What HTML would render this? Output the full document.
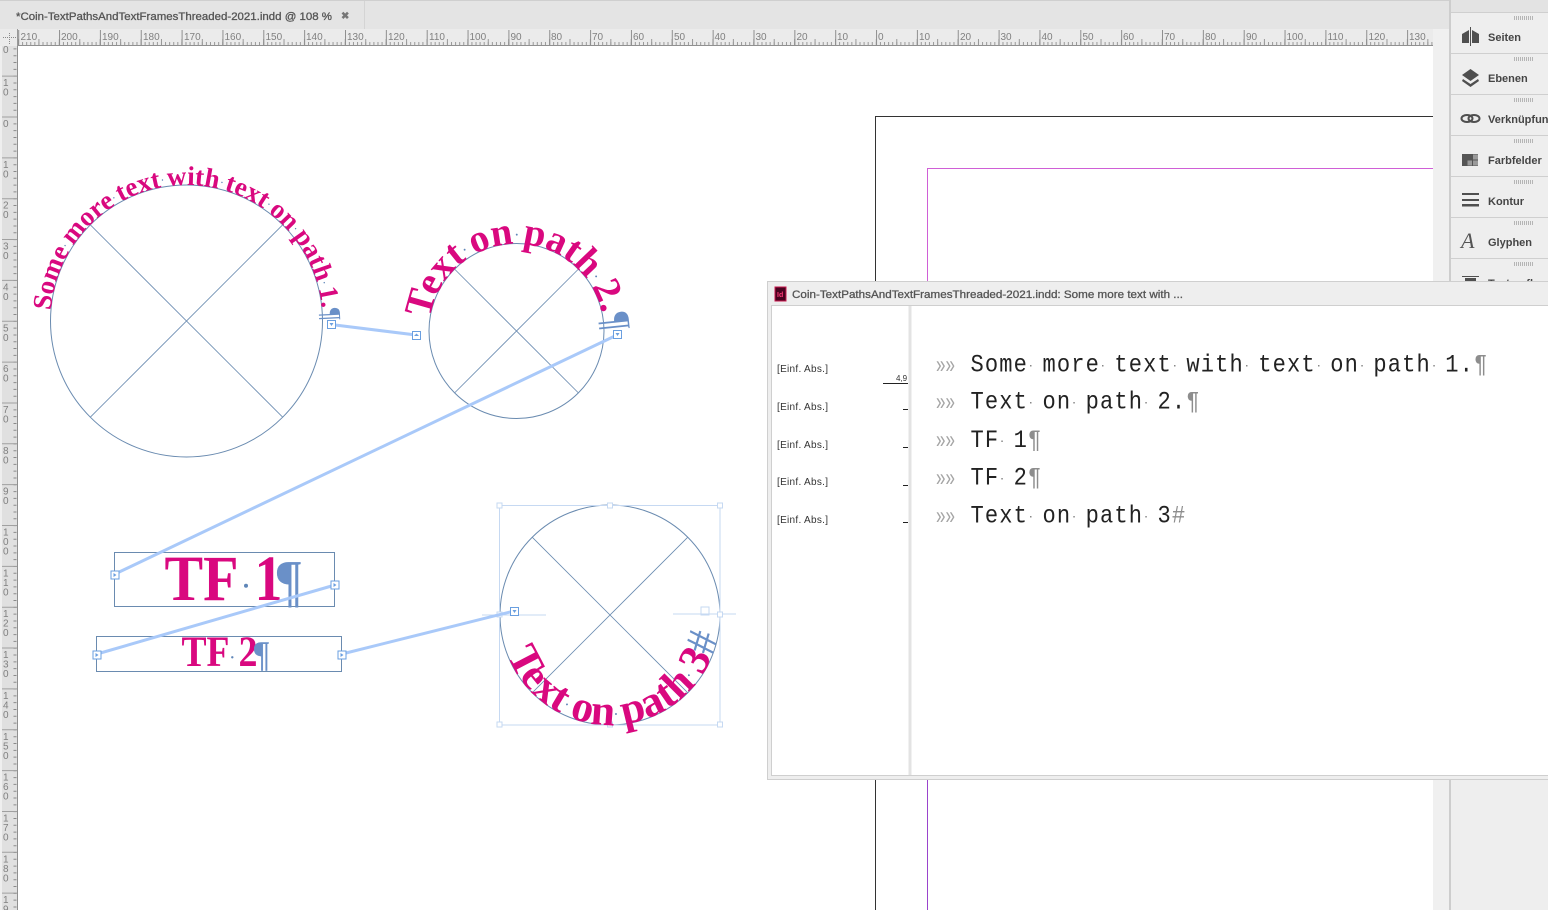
<!DOCTYPE html>
<html><head><meta charset="utf-8"><title>InDesign threaded text</title>
<style>html,body{margin:0;padding:0;width:1548px;height:910px;overflow:hidden;background:#fff}svg{display:block}
.r{font:10px "Liberation Sans",sans-serif;fill:#808080}
.p{font:bold 11px "Liberation Sans",sans-serif;fill:#454545}
.s{font:bold 26px "Liberation Serif",serif;fill:#d9087f}
.q{fill:#6a90c8;font-weight:normal}
.d1{fill:#5f86b8;font-weight:normal;font-size:12px;letter-spacing:2px}
.d2{fill:#5f86b8;font-weight:normal;font-size:16px;letter-spacing:3px}
.d3{fill:#5f86b8;font-weight:normal;font-size:16px;letter-spacing:4.5px}
.m{font:24px "Liberation Mono",monospace;fill:#222;letter-spacing:1.25px}
.g{fill:#8d8d8d}
.c{font:17px "Liberation Sans",sans-serif;fill:#a5a5a5}
.e{font:10px "Liberation Sans",sans-serif;fill:#333}
</style></head><body>
<svg width="1548" height="910" viewBox="0 0 1548 910" xmlns="http://www.w3.org/2000/svg">
<defs>
<path id="p1" d="M50.9 310.5A136 136 0 0 1 322.1 331.5"/>
<path id="p2" d="M429.87 318.7A87.5 87.5 0 0 1 603.13 343.3"/>
<path id="p3" d="M507.3 654.4A110 110 0 0 0 720 615"/>
</defs>
<rect width="1548" height="910" fill="#fff"/>

<!-- page -->
<path d="M875.5 910V116.5H1433" fill="none" stroke="#333" stroke-width="1"/>
<path d="M927.5 281V168.5H1433" fill="none" stroke="#cf5fd6" stroke-width="1"/>
<path d="M927.5 780V910" fill="none" stroke="#9a44cc" stroke-width="1"/>

<!-- tab bar -->
<rect x="0" y="0" width="1449" height="29" fill="#e4e4e4"/>
<rect x="0" y="0" width="1449" height="1" fill="#cfcfcf"/>
<rect x="364" y="1" width="1" height="28" fill="#d4d4d4"/>
<text x="16" y="20" font-family="Liberation Sans" font-size="11" fill="#555" stroke="#555" stroke-width=".3" textLength="316" lengthAdjust="spacingAndGlyphs">*Coin-TextPathsAndTextFramesThreaded-2021.indd @ 108 %</text>
<text x="341" y="19" font-family="Liberation Sans" font-size="10" font-weight="bold" fill="#777">✖</text>

<!-- horizontal ruler -->
<rect x="0" y="29" width="1433" height="17" fill="#ebebeb"/>
<line x1="18" y1="43.5" x2="1433" y2="43.5" stroke="#999" stroke-width="3" stroke-dasharray="1 3.085"/>
<line x1="18" y1="42" x2="1433" y2="42" stroke="#999" stroke-width="6" stroke-dasharray="1 19.425"/>
<line x1="18.2" y1="37.5" x2="1433" y2="37.5" stroke="#8f8f8f" stroke-width="15" stroke-dasharray="1 39.85"/>
<rect x="0" y="45" width="1433" height="1" fill="#909090"/>
<g class="r">
<text x="20.5" y="40">210</text><text x="61" y="40">200</text><text x="102" y="40">190</text><text x="143" y="40">180</text><text x="184" y="40">170</text><text x="224.5" y="40">160</text><text x="265.5" y="40">150</text><text x="306" y="40">140</text><text x="347" y="40">130</text><text x="388" y="40">120</text><text x="429" y="40">110</text><text x="469.5" y="40">100</text><text x="510.5" y="40">90</text><text x="551" y="40">80</text><text x="592" y="40">70</text><text x="633" y="40">60</text><text x="674" y="40">50</text><text x="714.5" y="40">40</text><text x="755.5" y="40">30</text><text x="796.5" y="40">20</text><text x="837" y="40">10</text><text x="878" y="40">0</text><text x="919" y="40">10</text><text x="960" y="40">20</text><text x="1000.5" y="40">30</text><text x="1041.5" y="40">40</text><text x="1082.5" y="40">50</text><text x="1123" y="40">60</text><text x="1164" y="40">70</text><text x="1205" y="40">80</text><text x="1246" y="40">90</text><text x="1286.5" y="40">100</text><text x="1327.5" y="40">110</text><text x="1368.5" y="40">120</text><text x="1409" y="40">130</text>
</g>

<!-- vertical ruler -->
<rect x="0" y="46" width="18" height="864" fill="#e0e0e0"/>
<rect x="0" y="46" width="2" height="864" fill="#efefef"/>
<rect x="17" y="46" width="1" height="864" fill="#8f8f8f"/>
<line x1="15" y1="34.8" x2="15" y2="910" stroke="#8a8a8a" stroke-width="3" stroke-dasharray="1 5.81"/>
<line x1="9.5" y1="34.8" x2="9.5" y2="910" stroke="#a0a0a0" stroke-width="15" stroke-dasharray="1 39.85"/>
<rect x="0" y="29" width="18" height="17" fill="#ebebeb"/>
<path d="M3 37.5H16M9.5 33V45" stroke="#8a8a8a" stroke-width="1" stroke-dasharray="1 1" fill="none"/>
<rect x="17" y="29" width="1" height="17" fill="#9a9a9a"/>
<g class="r">
<text x="3" y="53">0</text>
<text x="3 3" y="86 95.6">10</text>
<text x="3" y="127">0</text>
<text x="3 3" y="167.9 177.4">10</text>
<text x="3 3" y="208.7 218.2">20</text>
<text x="3 3" y="249.6 259.1">30</text>
<text x="3 3" y="290.4 299.9">40</text>
<text x="3 3" y="331.3 340.8">50</text>
<text x="3 3" y="372.1 381.6">60</text>
<text x="3 3" y="413 422.5">70</text>
<text x="3 3" y="453.8 463.3">80</text>
<text x="3 3" y="494.7 504.2">90</text>
<text x="3 3 3" y="535.5 545 554.5">100</text>
<text x="3 3 3" y="576.4 585.9 595.4">110</text>
<text x="3 3 3" y="617.2 626.7 636.2">120</text>
<text x="3 3 3" y="658.1 667.6 677.1">130</text>
<text x="3 3 3" y="698.9 708.4 717.9">140</text>
<text x="3 3 3" y="739.8 749.3 758.8">150</text>
<text x="3 3 3" y="780.6 790.1 799.6">160</text>
<text x="3 3 3" y="821.5 831 840.5">170</text>
<text x="3 3 3" y="862.3 871.8 881.3">180</text>
<text x="3 3" y="903.2 912.7">19</text>
</g>

<!-- scroll strip and panel -->
<rect x="1433" y="29" width="16" height="881" fill="#f0f0f0"/>
<rect x="1449" y="0" width="2" height="910" fill="#cdcdcd"/>
<rect x="1451" y="0" width="97" height="910" fill="#eeeeee"/>
<rect x="1451" y="0" width="97" height="12" fill="#e3e3e3"/>
<rect x="1451" y="12" width="97" height="1" fill="#cfcfcf"/>
<g fill="#cfcfcf">
<rect x="1451" y="53" width="97" height="1"/><rect x="1451" y="94" width="97" height="1"/><rect x="1451" y="135" width="97" height="1"/><rect x="1451" y="176" width="97" height="1"/><rect x="1451" y="217" width="97" height="1"/><rect x="1451" y="258" width="97" height="1"/>
</g>
<g stroke="#b5b5b5" stroke-width="4" stroke-dasharray="1 1">
<line x1="1514" y1="18" x2="1534" y2="18"/><line x1="1514" y1="59" x2="1534" y2="59"/><line x1="1514" y1="100" x2="1534" y2="100"/><line x1="1514" y1="141" x2="1534" y2="141"/><line x1="1514" y1="182" x2="1534" y2="182"/><line x1="1514" y1="223" x2="1534" y2="223"/><line x1="1514" y1="264" x2="1534" y2="264"/>
</g>
<text class="p" x="1488" y="41">Seiten</text>
<text class="p" x="1488" y="82">Ebenen</text>
<text class="p" x="1488" y="123">Verknüpfungen</text>
<text class="p" x="1488" y="164">Farbfelder</text>
<text class="p" x="1488" y="205">Kontur</text>
<text class="p" x="1488" y="246">Glyphen</text>
<text class="p" x="1488" y="287">Textumfluss</text>
<!-- icons -->
<path d="M1462 34L1469 30V43H1462ZM1479 34L1472 30V43H1479Z" fill="#4f4f4f"/>
<rect x="1470" y="27" width="1" height="19" fill="#4f4f4f"/>
<path d="M1470.5 69L1479 75L1470.5 81L1462 75Z" fill="#4f4f4f"/>
<path d="M1463 79L1470.5 84L1478 79L1479 81L1470.5 87L1462 81Z" fill="#4f4f4f"/>
<g fill="none" stroke="#4f4f4f" stroke-width="2"><ellipse cx="1467" cy="118.5" rx="5.5" ry="3.5"/><ellipse cx="1474" cy="118.5" rx="5.5" ry="3.5"/></g>
<rect x="1462" y="154" width="16" height="12" fill="#555"/>
<g fill="#9a9a9a"><rect x="1467.5" y="160.5" width="4.5" height="5"/><rect x="1473" y="160.5" width="5" height="5"/><rect x="1473" y="154.5" width="5" height="5"/></g>
<g fill="#4f4f4f"><rect x="1462" y="193" width="17" height="2"/><rect x="1462" y="199" width="17" height="2"/><rect x="1462" y="204" width="17" height="2.5"/></g>
<text x="1461" y="248" font-family="Liberation Serif" font-style="italic" font-size="22" fill="#555">A</text>
<g fill="#4f4f4f"><rect x="1462" y="276" width="17" height="1"/><rect x="1465" y="278" width="11" height="3"/></g>

<!-- circles -->
<g fill="none" stroke="#6a8bb0" stroke-width="1">
<circle cx="186.5" cy="321" r="136"/>
<circle cx="516.5" cy="331" r="87.5"/>
<circle cx="610" cy="615" r="110"/>
<rect x="114.5" y="552.5" width="220" height="54"/>
<rect x="96.5" y="636.5" width="245" height="35"/>
</g>
<g fill="none" stroke="#6a8bb0" stroke-width=".8">
<path d="M90.3 224.8L282.7 417.2M282.7 224.8L90.3 417.2"/>
<path d="M454.6 269.1L578.4 392.9M578.4 269.1L454.6 392.9"/>
<path d="M532.2 537.2L687.8 692.8M687.8 537.2L532.2 692.8"/>
</g>

<!-- selection frame for circle 3 -->
<g fill="none" stroke="#c6d9f2" stroke-width="1">
<rect x="499.5" y="505.5" width="220.5" height="219.5"/>
<path d="M482 615H546M673 614H736"/>
<rect x="701" y="607" width="8" height="8"/>
</g>
<g fill="#fff" stroke="#c6d9f2" stroke-width="1">
<rect x="497" y="503" width="5" height="5"/><rect x="607.5" y="503" width="5" height="5"/><rect x="717.5" y="503" width="5" height="5"/>
<rect x="497" y="612" width="5" height="5"/><rect x="717.5" y="612" width="5" height="5"/>
<rect x="497" y="722" width="5" height="5"/><rect x="607.5" y="722" width="5" height="5"/><rect x="717.5" y="722" width="5" height="5"/>
</g>

<!-- path text -->
<text class="s" style="font-size:27px"><textPath href="#p1">Some<tspan class="d1" dy="-3">·</tspan><tspan dy="3">more</tspan><tspan class="d1" dy="-3">·</tspan><tspan dy="3">text</tspan><tspan class="d1" dy="-3">·</tspan><tspan dy="3">with</tspan><tspan class="d1" dy="-3">·</tspan><tspan dy="3">text</tspan><tspan class="d1" dy="-3">·</tspan><tspan dy="3">on</tspan><tspan class="d1" dy="-3">·</tspan><tspan dy="3">path</tspan><tspan class="d1" dy="-3">·</tspan><tspan dy="3">1.</tspan><tspan class="q">¶</tspan></textPath></text>
<text class="s" style="font-size:39px"><textPath href="#p2">Text<tspan class="d2" dy="-4">·</tspan><tspan dy="4">on</tspan><tspan class="d2" dy="-4">·</tspan><tspan dy="4">path</tspan><tspan class="d2" dy="-4">·</tspan><tspan dy="4">2.</tspan><tspan class="q">¶</tspan></textPath></text>
<text class="s" style="font-size:43.5px"><textPath href="#p3">Text<tspan class="d3" dy="-5.5">·</tspan><tspan dy="5.5">on</tspan><tspan class="d3" dy="-5.5">·</tspan><tspan dy="5.5">path</tspan><tspan class="d3" dy="-5.5">·</tspan><tspan dy="5.5">3</tspan><tspan class="q">#</tspan></textPath></text>

<!-- frame text -->
<text class="s" style="font-size:65px" x="164.5" y="600" textLength="74" lengthAdjust="spacingAndGlyphs">TF</text>
<circle cx="246" cy="585.7" r="2" fill="#5f86b8"/>
<text class="s" style="font-size:65px" x="254.5" y="600" textLength="28" lengthAdjust="spacingAndGlyphs">1</text>
<text x="277" y="600" font-family="Liberation Serif" font-size="57" fill="#6a90c8" stroke="#6a90c8" stroke-width=".6" textLength="24" lengthAdjust="spacingAndGlyphs">¶</text>
<text class="s" style="font-size:43px" x="181.5" y="666" textLength="48" lengthAdjust="spacingAndGlyphs">TF</text>
<circle cx="232.3" cy="657.3" r="1.2" fill="#5f86b8"/>
<text class="s" style="font-size:43px" x="238.5" y="666" textLength="19" lengthAdjust="spacingAndGlyphs">2</text>
<text x="254" y="666" font-family="Liberation Serif" font-size="36" fill="#6a90c8" stroke="#6a90c8" stroke-width=".4" textLength="15" lengthAdjust="spacingAndGlyphs">¶</text>

<!-- threads -->
<g stroke="#a9c9f9" stroke-width="3" fill="none" stroke-linecap="round">
<path d="M335 325L416 335M617 335L115 574M335 585L97 654M342 654L514 611"/>
</g>
<g fill="#fff" stroke="#6a9fe0" stroke-width="1">
<rect x="327.5" y="320.5" width="8" height="8"/>
<rect x="412.5" y="331.5" width="8" height="8"/>
<rect x="613.5" y="330.5" width="8" height="8"/>
<rect x="111" y="571" width="8" height="8"/>
<rect x="331" y="581" width="8" height="8"/>
<rect x="93" y="651" width="8" height="8"/>
<rect x="338" y="651" width="8" height="8"/>
<rect x="510.5" y="607.5" width="8" height="8"/>
</g>
<g fill="#6a9fe0">
<path d="M329.5 323H333.5L331.5 326Z"/><path d="M414 336L416.5 333.5L419 336Z"/><path d="M615.5 333H619.5L617.5 336Z"/><path d="M113.5 573V577L116.5 575Z"/><path d="M333.5 583V587L336.5 585Z"/><path d="M95.5 653V657L98.5 655Z"/><path d="M340.5 653V657L343.5 655Z"/><path d="M512.5 610H516.5L514.5 613Z"/>
</g>

<!-- story editor window -->
<rect x="767" y="281" width="781" height="499" fill="#eeeeee"/>
<rect x="767.5" y="281.5" width="781" height="498" fill="none" stroke="#cfcfcf"/>
<rect x="771" y="305" width="777" height="471" fill="#fff"/>
<rect x="771" y="305" width="777" height="1" fill="#cfcfcf"/>
<rect x="771" y="305" width="1" height="471" fill="#cfcfcf"/>
<rect x="771" y="775" width="777" height="1" fill="#cfcfcf"/>
<rect x="908.5" y="306" width="3" height="469" fill="#e3e3e3"/>
<rect x="775" y="287" width="11" height="14" fill="#49021f" stroke="#c9184f" stroke-width="1"/>
<text x="777" y="297" font-family="Liberation Sans" font-size="7" font-weight="bold" fill="#ff3a78">Id</text>
<text x="792" y="298" font-family="Liberation Sans" font-size="11" fill="#555" stroke="#555" stroke-width=".3" textLength="391" lengthAdjust="spacingAndGlyphs">Coin-TextPathsAndTextFramesThreaded-2021.indd: Some more text with ...</text>

<g class="e">
<text x="777" y="372" textLength="51">[Einf. Abs.]</text>
<text x="777" y="410" textLength="51">[Einf. Abs.]</text>
<text x="777" y="448" textLength="51">[Einf. Abs.]</text>
<text x="777" y="485" textLength="51">[Einf. Abs.]</text>
<text x="777" y="523" textLength="51">[Einf. Abs.]</text>
</g>
<text x="896" y="381" font-family="Liberation Sans" font-size="8" fill="#333">4,9</text>
<g fill="#222">
<rect x="883" y="383" width="25" height="1"/>
<rect x="903" y="409" width="5" height="1"/><rect x="903" y="447" width="5" height="1"/><rect x="903" y="485" width="5" height="1"/><rect x="903" y="522" width="5" height="1"/>
</g>

<g class="c">
<text transform="translate(936 372.5) scale(1 1.45)">»»</text>
<text transform="translate(936 409.5) scale(1 1.45)">»»</text>
<text transform="translate(936 447.5) scale(1 1.45)">»»</text>
<text transform="translate(936 485.5) scale(1 1.45)">»»</text>
<text transform="translate(936 523.5) scale(1 1.45)">»»</text>
</g>
<g class="m">
<text transform="translate(970.5 371.5) scale(.92 1.06)">Some more text with text on path 1.<tspan class="g">¶</tspan></text>
<text transform="translate(970.5 408.5) scale(.92 1.06)">Text on path 2.<tspan class="g">¶</tspan></text>
<text transform="translate(970.5 447) scale(.92 1.06)">TF 1<tspan class="g">¶</tspan></text>
<text transform="translate(970.5 484.5) scale(.92 1.06)">TF 2<tspan class="g">¶</tspan></text>
<text transform="translate(970.5 522.5) scale(.92 1.06)">Text on path 3<tspan class="g">#</tspan></text>
</g>
<g fill="#888">
<rect x="1030" y="365" width="1.5" height="1.5"/><rect x="1102" y="365" width="1.5" height="1.5"/><rect x="1174" y="365" width="1.5" height="1.5"/><rect x="1246" y="365" width="1.5" height="1.5"/><rect x="1318" y="365" width="1.5" height="1.5"/><rect x="1361.3" y="365" width="1.5" height="1.5"/><rect x="1433.3" y="365" width="1.5" height="1.5"/>
<rect x="1030" y="402" width="1.5" height="1.5"/><rect x="1073.3" y="402" width="1.5" height="1.5"/><rect x="1145.3" y="402" width="1.5" height="1.5"/>
<rect x="1001.3" y="440.5" width="1.5" height="1.5"/>
<rect x="1001.3" y="478" width="1.5" height="1.5"/>
<rect x="1030" y="516" width="1.5" height="1.5"/><rect x="1073.3" y="516" width="1.5" height="1.5"/><rect x="1145.3" y="516" width="1.5" height="1.5"/>
</g>
</svg>
</body></html>
